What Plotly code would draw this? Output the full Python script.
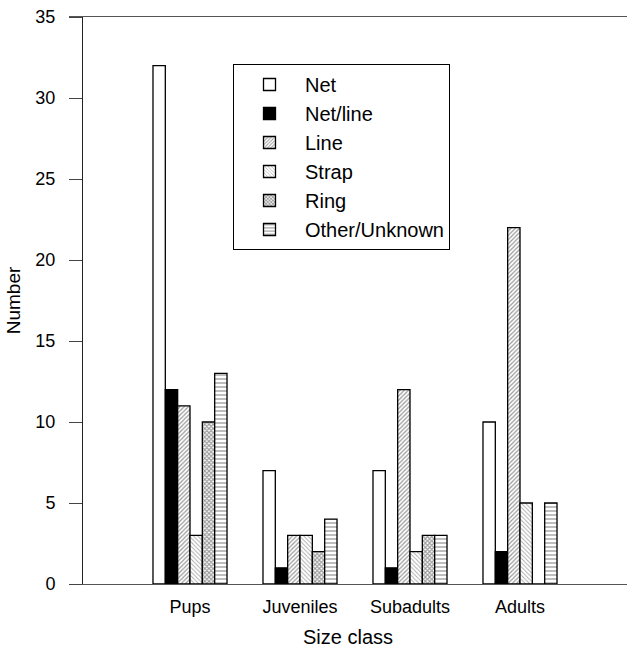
import plotly.graph_objects as go

categories = ["Pups", "Juveniles", "Subadults", "Adults"]
cat_pos = [0, 1, 2, 3]
series_names = ["Net", "Net/line", "Line", "Strap", "Ring", "Other/Unknown"]
net = [32, 7, 7, 10]
net_line = [12, 1, 1, 2]
line = [11, 3, 12, 22]
strap = [3, 3, 2, 5]
ring = [10, 2, 3, 0]
other = [13, 4, 3, 5]
y_ticks = [0, 5, 10, 15, 20, 25, 30, 35]

values = [net, net_line, line, strap, ring, other]
styles = [
    dict(color="white", pattern=dict(shape="")),
    dict(color="black", pattern=dict(shape="")),
    dict(color="white", pattern=dict(shape="/", size=3, solidity=0.4, fgcolor="#333")),
    dict(color="white", pattern=dict(shape="\\", size=3, solidity=0.3, fgcolor="#555")),
    dict(color="white", pattern=dict(shape="x", size=3, solidity=0.6, fgcolor="#333")),
    dict(color="white", pattern=dict(shape="-", size=4, solidity=0.3, fgcolor="#222")),
]

fig = go.Figure()
for name, vals, st in zip(series_names, values, styles):
    fig.add_trace(go.Bar(
        x=cat_pos, y=vals, name=name, legendgroup=name,
        marker=dict(color=st["color"], pattern=st["pattern"],
                    line=dict(color="black", width=1.3)),
    ))

L, R, T, B = 69, 2, 17, 69
W, H = 629, 653
pw = W - L - R

fig.update_layout(
    width=W, height=H,
    margin=dict(l=L, r=R, t=T, b=B),
    paper_bgcolor="white", plot_bgcolor="white",
    barmode="group", bargap=0.327, bargroupgap=0,
    font=dict(family="Liberation Sans, Arial, sans-serif", size=18, color="black"),
    legend=dict(
        x=(233 - L) / pw, y=1 - (64 - T) / (H - T - B),
        xanchor="left", yanchor="top",
        bordercolor="black", borderwidth=1, bgcolor="white",
        font=dict(size=20), tracegroupgap=0, itemwidth=61,
        traceorder="grouped",
    ),
    xaxis=dict(
        range=[(L - 190) / 110, (W - R - 190) / 110],
        tickvals=cat_pos, ticktext=categories,
        showline=True, linecolor="#555", linewidth=1, mirror=True,
        ticks="", showgrid=False, zeroline=False,
        ticklabelstandoff=6,
        tickfont=dict(size=18),
        title=dict(text="Size class", font=dict(size=20), standoff=14),
    ),
    yaxis=dict(
        range=[0, 35], tickvals=y_ticks,
        anchor="free", position=(82 - L) / pw,
        showline=True, linecolor="#222", linewidth=1,
        ticks="outside", ticklen=13, tickcolor="#444",
        ticklabelstandoff=10,
        showgrid=False, zeroline=False,
        tickfont=dict(size=18),
        title=dict(text="Number", font=dict(size=19), standoff=8),
    ),
)

fig.write_html("out.html")
